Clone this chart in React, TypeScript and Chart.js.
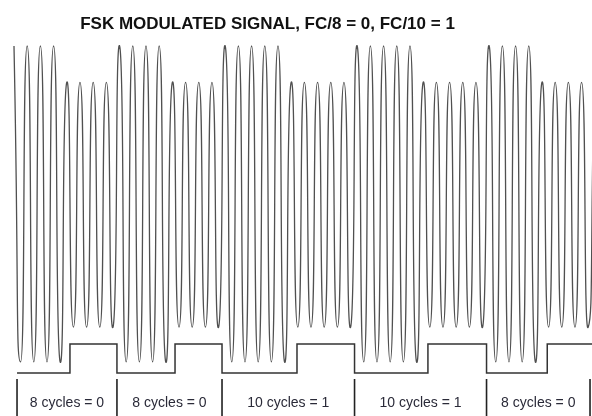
import { useEffect, useRef } from 'react';
import { Chart, registerables } from 'chart.js';

Chart.register(...registerables);

const TITLE = 'FSK MODULATED SIGNAL, FC/8 = 0, FC/10 = 1';

// Crest value of each carrier cycle (tall cycles = 1, short cycles ≈ 0.77)
const cyclePeaks = [
  1.0, 1.0, 1.0, 1.0, 0.77, 0.77, 0.77, 0.77,
  1.0, 1.0, 1.0, 1.0, 0.77, 0.77, 0.77, 0.77,
  1.0, 1.0, 1.0, 1.0, 1.0, 0.77, 0.77, 0.77, 0.77, 0.77,
  1.0, 1.0, 1.0, 1.0, 1.0, 0.77, 0.77, 0.77, 0.77, 0.77,
  1.0, 1.0, 1.0, 1.0, 0.77, 0.77, 0.77, 0.77,
  1.0,
];

// Trough value of each carrier cycle
const cycleTroughs = [
  -1.0, -1.0, -1.0, -1.0, -0.78, -0.78, -0.78, -0.78,
  -1.0, -1.0, -1.0, -1.0, -0.78, -0.78, -0.78, -0.78,
  -1.0, -1.0, -1.0, -1.0, -1.0, -0.78, -0.78, -0.78, -0.78, -0.78,
  -1.0, -1.0, -1.0, -1.0, -1.0, -0.78, -0.78, -0.78, -0.78, -0.78,
  -1.0, -1.0, -1.0, -1.0, -0.78, -0.78, -0.78, -0.78,
];

// Square (bit clock) wave: edge times in carrier cycles, and level held from each edge
const bitEdgeTimes = [0.23, 4.24, 7.8, 12.2, 15.76, 21.44, 25.8, 31.36, 35.8, 40.4, 44.5];
const bitLevels = [0, 1, 0, 1, 0, 1, 0, 1, 0, 1, 1];

// Bit segments
const segmentBounds = [0.23, 7.8, 15.76, 25.8, 35.8, 43.64];
const segmentLabels = ['8 cycles = 0', '8 cycles = 0', '10 cycles = 1', '10 cycles = 1', '8 cycles = 0'];

const textPlugin = {
  id: 'fskText',
  afterDatasetsDraw(chart: any) {
    const { ctx } = chart;
    const xs = chart.scales.x;
    ctx.save();
    ctx.textAlign = 'center';
    ctx.textBaseline = 'alphabetic';
    ctx.fillStyle = '#111111';
    ctx.font = 'bold 17px "Liberation Sans", Arial, sans-serif';
    ctx.fillText(TITLE, 267.5, 28.5);
    ctx.font = '14px "Liberation Sans", Arial, sans-serif';
    ctx.fillStyle = '#2a2a38';
    segmentLabels.forEach((t, i) => {
      const cx = xs.getPixelForValue((segmentBounds[i] + segmentBounds[i + 1]) / 2);
      ctx.fillText(t, cx, 407);
    });
    ctx.restore();
  },
};

export default function App() {
  const ref = useRef<HTMLCanvasElement | null>(null);

  useEffect(() => {
    document.body.style.margin = '0';
    const canvas = ref.current;
    if (!canvas) return;

    const wave: { x: number; y: number }[] = [];
    cyclePeaks.forEach((p, i) => {
      wave.push({ x: i, y: p });
      if (i < cycleTroughs.length) wave.push({ x: i + 0.5, y: cycleTroughs[i] });
    });

    const square = bitEdgeTimes.map((t, i) => ({ x: t, y: bitLevels[i] }));

    const dividers: { x: number; y: number | null }[] = [];
    segmentBounds.forEach((b) => {
      dividers.push({ x: b, y: -0.21 });
      dividers.push({ x: b, y: -1.7 });
      dividers.push({ x: b, y: null });
    });

    const chart = new Chart(canvas, {
      type: 'line',
      data: {
        datasets: [
          {
            data: wave,
            yAxisID: 'y',
            borderColor: '#505050',
            borderWidth: 1.3,
            tension: 0.75,
            pointRadius: 0,
            fill: false,
          },
          {
            data: square,
            yAxisID: 'y2',
            borderColor: '#333333',
            borderWidth: 1.5,
            stepped: true,
            pointRadius: 0,
            fill: false,
          },
          {
            data: dividers as any,
            yAxisID: 'y2',
            borderColor: '#222222',
            borderWidth: 1.6,
            spanGaps: false,
            pointRadius: 0,
            fill: false,
          },
        ],
      },
      options: {
        animation: false,
        responsive: false,
        maintainAspectRatio: false,
        layout: { padding: 0 },
        events: [],
        plugins: {
          legend: { display: false },
          title: { display: false },
          tooltip: { enabled: false },
        },
        scales: {
          x: { type: 'linear', display: false, min: -1.06, max: 43.79 },
          y: { type: 'linear', display: false, min: -1.342, max: 1.291 },
          y2: { type: 'linear', display: false, min: -1.483, max: 12.862 },
        },
      },
      plugins: [textPlugin],
    });

    return () => chart.destroy();
  }, []);

  return <canvas ref={ref} width={592} height={416} style={{ display: 'block' }} />;
}
